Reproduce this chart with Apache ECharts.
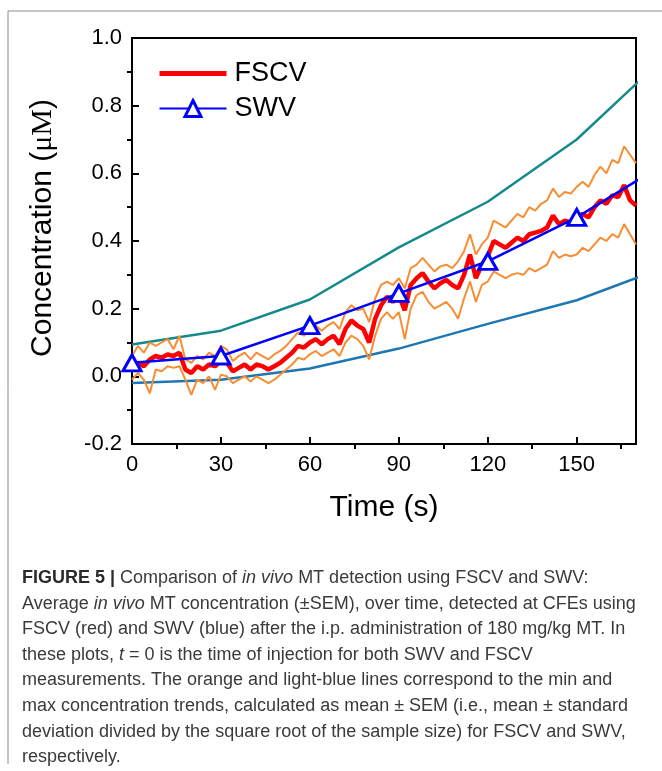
<!DOCTYPE html>
<html>
<head>
<meta charset="utf-8">
<title>FSCV vs SWV</title>
<script src="https://cdn.jsdelivr.net/npm/echarts@6/dist/echarts.min.js"></script>
<style>
  html, body { margin: 0; padding: 0; background: #fff; }
  #chart { width: 662px; height: 771px; }
</style>
</head>
<body>
<div id="chart"></div>
<script>
// FSCV trace, sampled every 2 s (0 ... 170 s)
const fscvTime = []
for (let t = 0; t <= 170; t += 2) fscvTime.push(t)

const fscvMean = [
  0.02, 0.04, 0.03, 0.05, 0.06, 0.055, 0.065, 0.06, 0.07, 0.02,
  0.01, 0.03, 0.02, 0.035, 0.03, 0.045, 0.04, 0.015, 0.025, 0.035,
  0.02, 0.035, 0.03, 0.02, 0.03, 0.04, 0.055, 0.07, 0.09, 0.085,
  0.1, 0.11, 0.095, 0.11, 0.12, 0.095, 0.14, 0.165, 0.15, 0.14,
  0.1, 0.17, 0.21, 0.235, 0.22, 0.24, 0.195, 0.27, 0.29, 0.305,
  0.28, 0.26, 0.275, 0.285, 0.27, 0.26, 0.3, 0.36, 0.29, 0.33,
  0.355, 0.4, 0.39, 0.38, 0.395, 0.41, 0.4, 0.42, 0.425, 0.43,
  0.44, 0.475, 0.45, 0.46, 0.455, 0.47, 0.48, 0.47, 0.5, 0.52,
  0.51, 0.535, 0.53, 0.565, 0.52, 0.505
]
const fscvHigh = [
  0.06, 0.09, 0.07, 0.1, 0.09, 0.1, 0.11, 0.08, 0.12, 0.05,
  0.04, 0.06, 0.05, 0.07, 0.06, 0.09, 0.08, 0.045, 0.06, 0.07,
  0.05, 0.07, 0.06, 0.05, 0.065, 0.075, 0.09, 0.11, 0.13, 0.12,
  0.14, 0.15, 0.135, 0.15, 0.16, 0.14, 0.19, 0.21, 0.195, 0.2,
  0.16, 0.23, 0.27, 0.28, 0.27, 0.29, 0.26, 0.32, 0.33, 0.35,
  0.33, 0.31, 0.325, 0.33, 0.32, 0.34, 0.37, 0.42, 0.36, 0.39,
  0.41, 0.46, 0.45, 0.44, 0.46, 0.48, 0.47, 0.5, 0.49, 0.51,
  0.52, 0.555, 0.53, 0.545, 0.54, 0.56, 0.575, 0.56, 0.595, 0.62,
  0.6, 0.64, 0.63, 0.68, 0.655, 0.63
]
const fscvLow = [
  -0.01, 0.01, -0.01, -0.05, 0.02, 0.015, 0.03, 0.025, 0.03, -0.01,
  -0.055, -0.01, -0.02, 0.0, -0.04, 0.005, 0.0, -0.02, -0.01, 0.0,
  -0.015, 0.0, -0.01, -0.02, -0.01, 0.005, 0.02, 0.035, 0.055, 0.05,
  0.065, 0.075, 0.06, 0.07, 0.08, 0.06, 0.1, 0.12, 0.11, 0.09,
  0.05, 0.12, 0.17, 0.19, 0.17, 0.19, 0.11, 0.2, 0.24, 0.25,
  0.22, 0.2, 0.21, 0.22, 0.2, 0.17, 0.23, 0.28, 0.22, 0.27,
  0.28, 0.31, 0.3, 0.29, 0.3, 0.305, 0.3, 0.32, 0.31, 0.32,
  0.33, 0.37, 0.35, 0.36, 0.355, 0.36, 0.38, 0.37, 0.39, 0.41,
  0.4, 0.42, 0.41, 0.45, 0.42, 0.39
]

// SWV measurements every 30 s (last point lies past the axis end)
const swvTime = [0, 30, 60, 90, 120, 150, 180]
const swvMean = [0.04, 0.06, 0.15, 0.245, 0.34, 0.47, 0.63]
const swvHigh = [0.094, 0.135, 0.227, 0.381, 0.516, 0.70, 0.946]
const swvLow = [-0.02, -0.01, 0.023, 0.082, 0.155, 0.225, 0.323]

const captionLines = [
  '{b|FIGURE 5 |} Comparison of {i|in vivo} MT detection using FSCV and SWV:',
  'Average {i|in vivo} MT concentration (\u00b1SEM), over time, detected at CFEs using',
  'FSCV (red) and SWV (blue) after the i.p. administration of 180 mg/kg MT. In',
  'these plots, {i|t} = 0 is the time of injection for both SWV and FSCV',
  'measurements. The orange and light-blue lines correspond to the min and',
  'max concentration trends, calculated as mean \u00b1 SEM (i.e., mean \u00b1 standard',
  'deviation divided by the square root of the sample size) for FSCV and SWV,',
  'respectively.'
]

const font = '"Liberation Sans", Arial, sans-serif'
const serif = '"Liberation Serif", "Times New Roman", serif'
const box = { left: 132, right: 26, top: 38, bottom: 327 }
const zip = (xs, ys) => ys.map((y, i) => [xs[i], y])

// helper slots for the minor x ticks (one per second)
const secondSlots = []
for (let s = 0; s <= 170; s++) secondSlots.push(String(s))

const chart = echarts.init(document.getElementById('chart'), null, { renderer: 'canvas' })

const caption = captionLines.map((line, i) => ({
  type: 'text',
  silent: true,
  style: {
    x: 22,
    y: 578 + i * 25.6,
    verticalAlign: 'middle',
    text: line,
    font: '18px ' + font,
    fill: '#3a3a3a',
    rich: {
      b: { fontWeight: 'bold', fontSize: 18, fontFamily: font, fill: '#2a2a2a' },
      i: { fontStyle: 'italic', fontSize: 18, fontFamily: font, fill: '#3a3a3a' }
    }
  }
}))

chart.setOption({
  animation: false,
  grid: [
    Object.assign({ show: true, borderColor: '#000', borderWidth: 2 }, box),
    Object.assign({}, box)
  ],
  legend: {
    data: [
      { name: 'FSCV', itemStyle: { opacity: 0 }, lineStyle: { color: '#ff0000', width: 5 } },
      {
        name: 'SWV',
        itemStyle: { color: '#fff', borderColor: '#0000ff', borderWidth: 3 },
        lineStyle: { color: '#0000ff', width: 2 }
      }
    ],
    orient: 'vertical',
    left: 157,
    top: 60,
    padding: 0,
    itemWidth: 67,
    itemHeight: 20,
    itemGap: 8,
    textStyle: { fontSize: 27, color: '#000', fontFamily: font, padding: [0, 0, 0, 3] }
  },
  xAxis: [
    {
      type: 'value',
      gridIndex: 0,
      min: 0,
      max: 170,
      interval: 30,
      name: 'Time (s)',
      nameLocation: 'middle',
      nameGap: 49,
      nameTextStyle: { fontSize: 30, color: '#000', fontFamily: font },
      axisLine: { onZero: false, lineStyle: { color: '#000', width: 2 } },
      axisTick: { inside: true, length: 7, lineStyle: { color: '#000', width: 2 } },
      axisLabel: { fontSize: 22, color: '#000', fontFamily: font, margin: 10, showMaxLabel: false },
      splitLine: { show: false }
    },
    {
      type: 'category',
      gridIndex: 1,
      data: secondSlots,
      boundaryGap: false,
      axisLine: { show: false, onZero: false },
      axisLabel: { show: false },
      axisTick: {
        show: true,
        length: 5,
        interval: (i) => i % 30 === 15,
        lineStyle: { color: '#000', width: 2 }
      },
      splitLine: { show: false }
    }
  ],
  yAxis: [
    {
      type: 'value',
      gridIndex: 0,
      min: -0.2,
      max: 1.0,
      interval: 0.2,
      axisLine: { onZero: false, lineStyle: { color: '#000', width: 2 } },
      axisTick: { inside: true, length: 7, lineStyle: { color: '#000', width: 2 } },
      axisLabel: { fontSize: 22, color: '#000', fontFamily: font, margin: 10, formatter: (v) => v.toFixed(1) },
      splitLine: { show: false }
    },
    {
      type: 'value',
      gridIndex: 1,
      min: -0.2,
      max: 1.0,
      interval: 0.2,
      axisLine: { show: false, onZero: false },
      axisLabel: { show: false },
      axisTick: { show: false },
      minorTick: { show: true, splitNumber: 2, length: 5, lineStyle: { color: '#000', width: 2 } },
      splitLine: { show: false },
      minorSplitLine: { show: false }
    }
  ],
  series: [
    {
      name: 'SWV high',
      type: 'line',
      data: zip(swvTime, swvHigh),
      symbol: 'none',
      lineStyle: { color: '#16898d', width: 2.5 },
      z: 1
    },
    {
      name: 'SWV low',
      type: 'line',
      data: zip(swvTime, swvLow),
      symbol: 'none',
      lineStyle: { color: '#1c77b2', width: 2.5 },
      z: 1
    },
    {
      name: 'FSCV high',
      type: 'line',
      data: zip(fscvTime, fscvHigh),
      symbol: 'none',
      lineStyle: { color: '#f88e33', width: 2 },
      z: 2
    },
    {
      name: 'FSCV low',
      type: 'line',
      data: zip(fscvTime, fscvLow),
      symbol: 'none',
      lineStyle: { color: '#f88e33', width: 2 },
      z: 2
    },
    {
      name: 'FSCV',
      type: 'line',
      data: zip(fscvTime, fscvMean),
      symbol: 'none',
      itemStyle: { color: '#ff0000' },
      lineStyle: { color: '#ff0000', width: 4.5 },
      z: 3
    },
    {
      name: 'SWV',
      type: 'line',
      data: zip(swvTime, swvMean),
      symbol: 'triangle',
      symbolSize: [18, 16],
      itemStyle: { color: '#fff', borderColor: '#0000ff', borderWidth: 3 },
      lineStyle: { color: '#0000ff', width: 2.5 },
      z: 4
    }
  ],
  graphic: [
    { type: 'line', silent: true, shape: { x1: 8, y1: 11, x2: 662, y2: 11 }, style: { stroke: '#8a8a8a', lineWidth: 1 } },
    { type: 'line', silent: true, shape: { x1: 8, y1: 11, x2: 8, y2: 764 }, style: { stroke: '#8a8a8a', lineWidth: 1 } },
    {
      type: 'text',
      silent: true,
      x: 43,
      y: 228,
      rotation: Math.PI / 2,
      style: {
        text: 'Concentration ({s|\u03bcM})',
        align: 'center',
        verticalAlign: 'middle',
        font: '30px ' + font,
        fill: '#000',
        rich: { s: { fontSize: 30, fontFamily: serif, fill: '#000' } }
      }
    }
  ].concat(caption)
})
</script>
</body>
</html>
